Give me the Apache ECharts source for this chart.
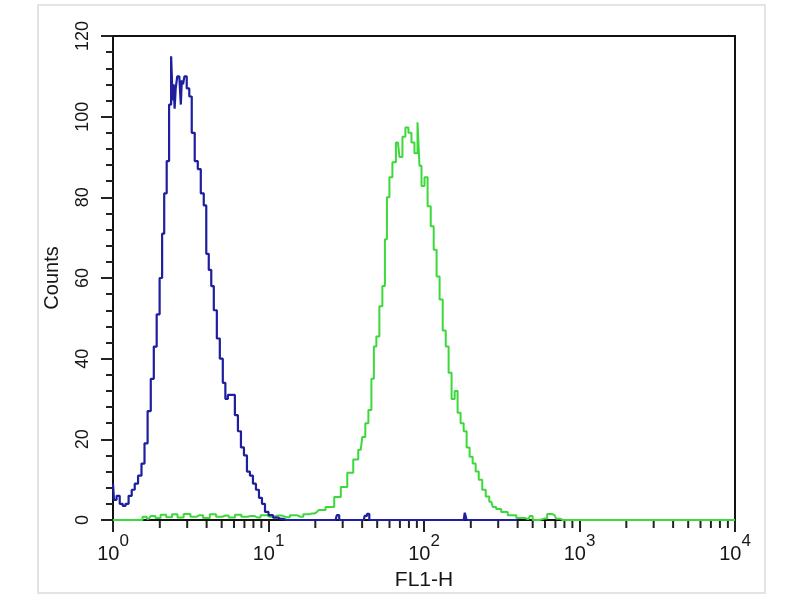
<!DOCTYPE html>
<html>
<head>
<meta charset="utf-8">
<script src="https://cdn.jsdelivr.net/npm/echarts@6/dist/echarts.min.js"></script>
<style>html,body{margin:0;padding:0;background:#fff;}#chart{width:800px;height:600px;}</style>
</head>
<body>
<div id="chart"></div>
<script>
// FL1-H value, Counts
const blueSeries = [
  [1.00, 9], [1.03, 5], [1.08, 6], [1.13, 4], [1.18, 3.5], [1.23, 4], [1.29, 6], [1.35, 7.5],
  [1.41, 9], [1.49, 11], [1.56, 14], [1.63, 19], [1.71, 27], [1.79, 35], [1.87, 43], [1.95, 51],
  [2.04, 60], [2.10, 71], [2.17, 81], [2.26, 89], [2.33, 103], [2.40, 115], [2.44, 104], [2.47, 108],
  [2.51, 102], [2.55, 107], [2.63, 110], [2.71, 110], [2.75, 103], [2.79, 109], [2.85, 108], [2.91, 110],
  [3.05, 107], [3.14, 105], [3.28, 96], [3.43, 89], [3.59, 87], [3.75, 81], [3.92, 78], [4.04, 66],
  [4.22, 62], [4.35, 58], [4.55, 52], [4.76, 45], [4.97, 40], [5.20, 34], [5.36, 30], [5.60, 31],
  [5.94, 31], [6.22, 26], [6.50, 22], [6.80, 18], [7.11, 16], [7.43, 12], [7.77, 11], [8.12, 9],
  [8.49, 7.5], [8.88, 5.5], [9.28, 4], [9.71, 2], [10.3, 1.2], [11.1, 0.6], [11.9, 0.3], [13, 0],
  [27, 0], [28, 1.2], [29, 0], [41, 0], [42, 1], [44, 1.5], [45, 0], [180, 0], [186, 1.8], [190, 0],
  [400, 0]
];
const greenSeries = [
  [1.0, 0], [1.5, 0], [1.6, 0.8], [1.7, 0.3], [1.8, 1], [1.95, 0.5], [2.1, 1.3], [2.3, 0.7],
  [2.5, 1.4], [2.7, 0.6], [3.0, 1.5], [3.3, 0.8], [3.6, 1.2], [4.0, 0.5], [4.4, 1.4], [4.8, 0.8],
  [5.3, 1.1], [5.8, 0.6], [6.4, 1.3], [7.0, 0.8], [7.7, 1.0], [8.5, 0.6], [9.3, 1.2], [10.2, 0.8],
  [11.5, 1.1], [13, 0.7], [14.5, 1.2], [16, 0.8], [17.5, 1.4], [19, 1.6], [20.5, 2.0],
  [21.6, 2.5], [25.1, 3.2], [27.9, 5.7], [30.5, 8.2], [33.8, 11.7], [36.4, 15], [39.2, 17.4],
  [41.0, 20.6], [42.9, 24], [44.9, 27.3], [46.9, 35], [48.3, 43], [50.5, 45.5], [52.8, 53],
  [55.2, 58], [56.9, 69.6], [58.6, 80], [61.3, 85], [64.0, 88.7], [68.0, 93.6], [71.1, 90],
  [74.3, 95], [77.6, 97.3], [81.2, 96], [84.9, 93.6], [88.8, 90.9], [92.9, 98.6], [94.2, 87.8],
  [98.6, 82.8], [103, 85], [108, 77.8], [113, 72.8], [118, 67], [123, 60.4], [129, 54.7],
  [135, 47], [141, 43], [147, 36.5], [154, 30], [161, 32], [168, 26.6], [176, 24], [184, 22],
  [192, 18], [201, 15.7], [210, 14], [220, 12], [230, 10], [244, 7.5], [255, 5.8], [271, 4.5],
  [283, 3.2], [300, 2.7], [328, 2], [364, 1.2], [423, 0.5], [470, 0.2], [490, 1.0], [510, 0],
  [600, 0.4], [640, 1.5], [690, 1.2], [730, 0.3], [780, 0], [10000, 0]
];
const xMajorTicks = [1, 10, 100, 1000, 10000];
const xMinorTicks = [2, 3, 4, 5, 6, 7, 8, 9, 20, 30, 40, 50, 60, 70, 80, 90,
  200, 300, 400, 500, 600, 700, 800, 900, 2000, 3000, 4000, 5000, 6000, 7000, 8000, 9000];
const yTicks = [0, 20, 40, 60, 80, 100, 120];

const chart = echarts.init(document.getElementById('chart'), null, {renderer: 'canvas'});
const textColor = '#161616';
const fam = 'Liberation Sans';
chart.setOption({
  backgroundColor: '#ffffff',
  animation: false,
  graphic: [{
    type: 'rect', shape: {x: 38, y: 5, width: 727, height: 588},
    style: {fill: 'none', stroke: '#e4e4e4', lineWidth: 2}, silent: true, z: -1
  }],
  grid: {left: 113, right: 65, top: 36, bottom: 80, show: true, borderColor: '#111', borderWidth: 2, backgroundColor: '#fff'},
  xAxis: {
    type: 'log', logBase: 10, min: xMajorTicks[0], max: xMajorTicks[xMajorTicks.length - 1],
    splitNumber: 4,
    name: 'FL1-H', nameLocation: 'middle', nameGap: 50,
    nameTextStyle: {color: textColor, fontSize: 21, fontFamily: fam},
    axisLine: {show: true, lineStyle: {color: '#111', width: 2}},
    axisTick: {show: true, inside: false, length: 12, lineStyle: {color: '#222', width: 2}},
    splitLine: {show: false},
    axisLabel: {
      margin: 13, color: textColor, fontFamily: fam,
      formatter: function (v) {
        const e = Math.round(Math.log10(v));
        return '{b|10}{s|' + e + '}';
      },
      rich: {
        b: {fontSize: 20, color: textColor, fontFamily: fam, verticalAlign: 'bottom', lineHeight: 31},
        s: {fontSize: 17, color: textColor, fontFamily: fam, verticalAlign: 'top', lineHeight: 17}
      }
    }
  },
  yAxis: {
    type: 'value', min: 0, max: 120, interval: 20,
    name: 'Counts', nameLocation: 'middle', nameGap: 51, nameRotate: 90,
    nameTextStyle: {color: textColor, fontSize: 20, fontFamily: fam},
    axisLine: {show: true, lineStyle: {color: '#111', width: 2}},
    axisTick: {show: true, inside: false, length: 12, lineStyle: {color: '#222', width: 2}},
    minorTick: {show: true, splitNumber: 5, length: 7, lineStyle: {color: '#222', width: 2}},
    splitLine: {show: false},
    axisLabel: {rotate: 90, margin: 21, color: textColor, fontSize: 18, fontFamily: fam}
  },
  series: [
    {
      type: 'custom', name: 'minorTicks', silent: true, clip: false, z: 3,
      data: xMinorTicks.map(v => [v, 0]),
      renderItem: function (params, api) {
        const p = api.coord([api.value(0), 0]);
        return {type: 'line', shape: {x1: p[0], y1: p[1] + 1, x2: p[0], y2: p[1] + 8},
          style: {stroke: '#222', lineWidth: 2}};
      }
    },
    {
      type: 'line', name: 'green', data: greenSeries, step: 'middle', showSymbol: false,
      lineStyle: {color: '#3cd83c', width: 2}, itemStyle: {color: '#3cd83c'}, z: 4, clip: true
    },
    {
      type: 'line', name: 'blue', data: blueSeries, step: 'middle', showSymbol: false,
      lineStyle: {color: '#1e1e9e', width: 2.2}, itemStyle: {color: '#1e1e9e'}, z: 5, clip: true
    }
  ]
});
</script>
</body>
</html>
